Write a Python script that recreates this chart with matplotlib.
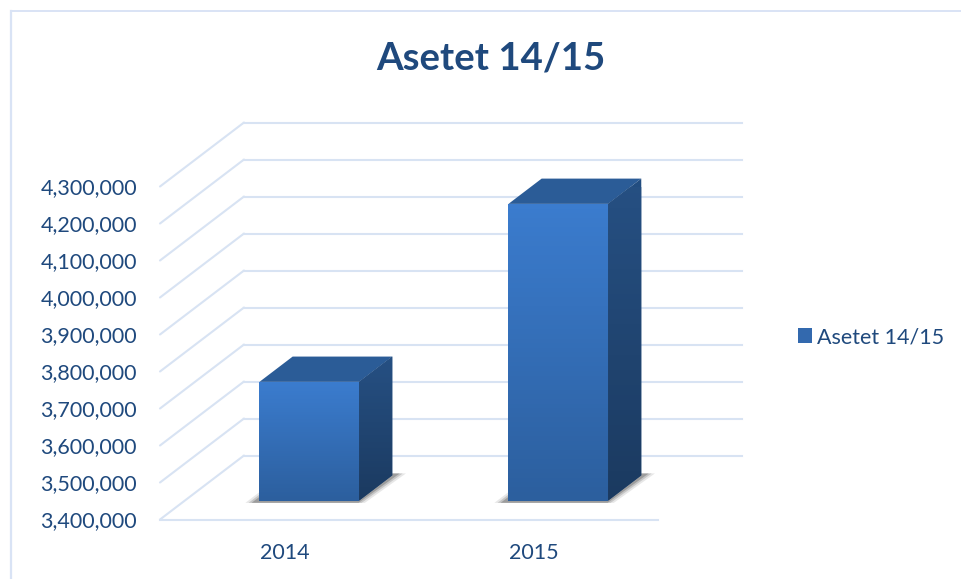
import matplotlib

matplotlib.use("Agg")
import matplotlib.pyplot as plt
import numpy as np
from matplotlib.colors import LinearSegmentedColormap
from matplotlib.patches import Patch, Polygon

plt.rcParams["font.family"] = ["Lato", "DejaVu Sans"]

TITLE = "Asetet 14/15"
YEARS = ["2014", "2015"]
VALUES = [3721000, 4202000]
Y_TICKS = [3400000, 3500000, 3600000, 3700000, 3800000,
           3900000, 4000000, 4100000, 4200000, 4300000]

TEXT = "#1f497d"
GRID = "#d8e3f3"
W, H = 961, 579
BAR_W = 0.4
D_FRONT = 0.295  # bar front face, fraction of the floor depth
D_BACK = 0.69

fig = plt.figure(figsize=(W / 100, H / 100), dpi=100, facecolor="white")

# frame of the chart area, only top and left survive the crop
fig.add_artist(plt.Line2D([11 / W, 11 / W], [0, 1 - 11 / H], color="#d9e3f5", lw=1.6))
fig.add_artist(plt.Line2D([11 / W, 1], [1 - 11 / H, 1 - 11 / H], color="#d9e3f5", lw=1.4))

ax = fig.add_axes([160 / W, 1 - 519.5 / H, 498 / W, 333 / H])
ax.patch.set_alpha(0)
ax.set_xlim(-0.5, 1.5)
ax.set_ylim(Y_TICKS[0], Y_TICKS[-1])

DX = 84 / 249  # full depth in category units
DY = 64 / 37 * 100000  # full depth in value units


def proj(cat, val, depth):
    """Shear a point of the 3D box into the front plane's data coords."""
    return cat + depth * DX, val + depth * DY


def poly(points, **kw):
    patch = Polygon([proj(*p) for p in points], closed=True, clip_on=False,
                    linewidth=0, **kw)
    ax.add_patch(patch)
    return patch


def gradient(patch, extent, top, bottom, zorder):
    cmap = LinearSegmentedColormap.from_list("g", [top, bottom])
    img = np.linspace(0, 1, 64).reshape(-1, 1)
    im = ax.imshow(img, extent=extent, cmap=cmap, aspect="auto", origin="upper",
                   zorder=zorder, clip_on=True)
    im.set_clip_path(patch)


# walls
lo, hi = Y_TICKS[0], Y_TICKS[-1]
for v in Y_TICKS:
    ax.plot(*zip(proj(-0.5, v, 0), proj(-0.5, v, 1)), color=GRID, lw=1.5,
            clip_on=False, zorder=1, solid_capstyle="round")
    ax.plot(*zip(proj(-0.5, v, 1), proj(1.5, v, 1)), color=GRID, lw=1.5,
            clip_on=False, zorder=1)
ax.plot([-0.5, 1.5], [lo, lo], color=GRID, lw=1.5, clip_on=False, zorder=1)

# bars
for i, val in enumerate(VALUES):
    l, r = i - BAR_W / 2, i + BAR_W / 2

    # soft floor shadow
    for grow, alpha in ((0.245, 0.12), (0.232, 0.2), (0.22, 0.3)):
        poly([(i - grow, lo, D_FRONT - 0.035), (i + grow - 0.01, lo, D_FRONT - 0.035),
              (i + grow, lo, D_BACK + 0.03), (i - grow, lo, D_BACK + 0.03)],
             facecolor="#404040", alpha=alpha, zorder=2)

    top_face = poly([(l, val, D_FRONT), (r, val, D_FRONT),
                     (r, val, D_BACK), (l, val, D_BACK)],
                    facecolor="#2b5c97", zorder=3)

    side = poly([(r, lo, D_FRONT), (r, val, D_FRONT),
                 (r, val, D_BACK), (r, lo, D_BACK)],
                facecolor="#224d80", zorder=3)
    x0, y_bot = proj(r, lo, D_FRONT)
    x1, y_top = proj(r, val, D_BACK)
    gradient(side, [x0, x1, y_bot, y_top], "#265083", "#1b3a60", 4)

    front = poly([(l, lo, D_FRONT), (r, lo, D_FRONT),
                  (r, val, D_FRONT), (l, val, D_FRONT)],
                 facecolor="#3672bb", zorder=5)
    x0, y_bot = proj(l, lo, D_FRONT)
    x1, y_top = proj(r, val, D_FRONT)
    gradient(front, [x0, x1, y_bot, y_top], "#3b7cce", "#2c5f9e", 6)

ax.set_xlim(-0.5, 1.5)
ax.set_ylim(lo, hi)

ax.set_xticks([0, 1])
ax.set_xticklabels(YEARS)
ax.set_yticks(Y_TICKS)
ax.set_yticklabels([f"{v:,}" for v in Y_TICKS])
ax.tick_params(length=0, labelsize=15.5, labelcolor=TEXT, pad=16.5, axis="y")
ax.tick_params(length=0, labelsize=15.5, labelcolor=TEXT, pad=17, axis="x")
for s in ax.spines.values():
    s.set_visible(False)

fig.text(490.5 / W, 1 - 58 / H, TITLE, ha="center", va="center", fontsize=27.6,
         fontweight="bold", color=TEXT)

ax.legend(handles=[Patch(facecolor="#3369ae", label=TITLE)], frameon=False,
          loc="center left", bbox_to_anchor=(798 / W, 1 - 337 / H),
          bbox_transform=fig.transFigure, fontsize=15.5, labelcolor=TEXT,
          handlelength=0.65, handleheight=0.65, handletextpad=0.25,
          borderpad=0, borderaxespad=0)

fig.savefig("out.png", dpi=100)
plt.close(fig)
